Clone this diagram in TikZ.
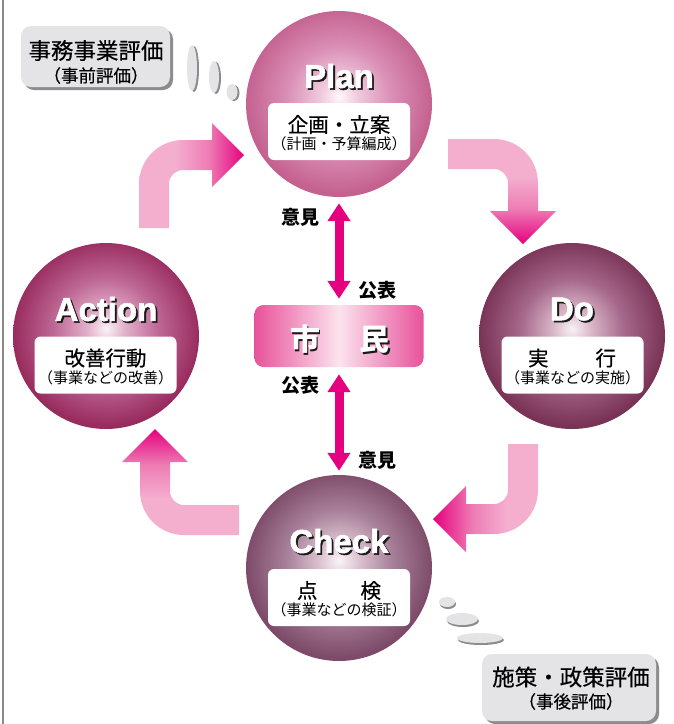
\documentclass[tikz,border=0pt]{standalone}
\usepackage{fontspec}
\setmainfont{Liberation Sans}
\newfontfamily\jp{Noto Sans CJK JP}
\newfontfamily\jpmed{Noto Sans CJK JP}[FakeBold=0.5]
\newfontfamily\heavy{Liberation Sans Bold}[FakeBold=1.5]
\usetikzlibrary{arrows.meta,shadows}
\definecolor{pkL}{HTML}{F4AFCF}
\definecolor{pkM}{HTML}{EE7DB4}
\definecolor{pkD}{HTML}{E5007F}
\definecolor{smE}{HTML}{E8529B}
\definecolor{smC}{HTML}{FBE3EE}
\definecolor{plan0}{HTML}{FEF8FB}\definecolor{plan1}{HTML}{F0CADD}\definecolor{plan2}{HTML}{DA8FB6}\definecolor{plan3}{HTML}{C4618F}
\definecolor{act0}{HTML}{FAF2F6}\definecolor{act1}{HTML}{E2B1CA}\definecolor{act2}{HTML}{BE6895}\definecolor{act3}{HTML}{992C5F}
\definecolor{do0}{HTML}{F8F2F5}\definecolor{do1}{HTML}{DAB8C9}\definecolor{do2}{HTML}{A5678A}\definecolor{do3}{HTML}{793355}
\definecolor{chk0}{HTML}{F9F4F7}\definecolor{chk1}{HTML}{DEC5D2}\definecolor{chk2}{HTML}{A8819A}\definecolor{chk3}{HTML}{7D4B69}
\definecolor{bubble}{HTML}{E4E4E6}
\definecolor{bubbleshade}{HTML}{8C8C8E}
\definecolor{frameline}{HTML}{8A8A8A}
\pgfdeclareradialshading{planball}{\pgfpoint{0bp}{2bp}}{color(0bp)=(plan0); color(5bp)=(plan1); color(14bp)=(plan2); color(25bp)=(plan3); color(50bp)=(plan3)}
\pgfdeclareradialshading{actball}{\pgfpoint{0bp}{2bp}}{color(0bp)=(act0); color(5bp)=(act1); color(14bp)=(act2); color(25bp)=(act3); color(50bp)=(act3)}
\pgfdeclareradialshading{doball}{\pgfpoint{0bp}{2bp}}{color(0bp)=(do0); color(5bp)=(do1); color(14bp)=(do2); color(25bp)=(do3); color(50bp)=(do3)}
\pgfdeclareradialshading{chkball}{\pgfpoint{0bp}{2bp}}{color(0bp)=(chk0); color(5bp)=(chk1); color(14bp)=(chk2); color(25bp)=(chk3); color(50bp)=(chk3)}
\pgfdeclarehorizontalshading{arrR}{100bp}{color(0bp)=(pkL); color(42bp)=(pkL); color(58bp)=(pkM); color(75bp)=(pkD); color(100bp)=(pkD)}
\pgfdeclarehorizontalshading{arrL}{100bp}{color(0bp)=(pkD); color(25bp)=(pkD); color(44bp)=(pkM); color(60bp)=(pkL); color(100bp)=(pkL)}
\pgfdeclareverticalshading{arrDown}{100bp}{color(0bp)=(pkD); color(25bp)=(pkD); color(42bp)=(pkM); color(57bp)=(pkL); color(100bp)=(pkL)}
\pgfdeclareverticalshading{arrUp}{100bp}{color(0bp)=(pkL); color(42bp)=(pkL); color(58bp)=(pkM); color(75bp)=(pkD); color(100bp)=(pkD)}
\pgfdeclarehorizontalshading{shiminH}{100bp}{color(0bp)=(smE); color(25bp)=(smE); color(50bp)=(smC); color(75bp)=(smE); color(100bp)=(smE)}
\newcommand\shadowtext[1]{\makebox[0pt][l]{\hspace{1.8pt}\raisebox{-1.8pt}{\color{black!90}#1}}#1}
\tikzset{
  ball/.style={circle, minimum size=186pt, inner sep=0pt, shade},
  title/.style={font=\heavy\fontsize{33}{33}\selectfont, text=white, inner sep=0pt},
  infobox/.style={rounded corners=6pt, fill=white, minimum width=142pt, minimum height=57pt, inner sep=0pt},
  lineone/.style={font=\jpmed\fontsize{20.5}{20.5}\selectfont, inner sep=0pt},
  linetwo/.style={font=\jp\fontsize{15}{15}\selectfont, inner sep=0pt},
  lbl/.style={font=\jp\bfseries\fontsize{19}{19}\selectfont, inner sep=0pt},
  vdouble/.style={draw=pkD, line width=9pt, {Triangle[width=22pt,length=18pt]}-{Triangle[width=22pt,length=18pt]}},
  graybox/.style={rounded corners=10pt, fill=bubble, inner sep=0pt,
    drop shadow={shadow xshift=3pt, shadow yshift=-3pt, fill=bubbleshade, opacity=1}},
  bigjp/.style={font=\jpmed\fontsize{22.5}{22.5}\selectfont, inner sep=0pt},
  smalljp/.style={font=\jpmed\fontsize{17.5}{17.5}\selectfont, inner sep=0pt},
  puff/.style={fill=bubble},
  puffshade/.style={fill=bubbleshade}
}
\begin{document}
\begin{tikzpicture}[x=1pt,y=-1pt]
\useasboundingbox (0,0) rectangle (674,724);
\fill[white] (0,0) rectangle (674,724);
\draw[frameline, line width=2pt] (3,0) -- (3,724);

% bent arrows
\shade[shading=arrR] (139,228) -- (139,184) arc[start angle=180,end angle=270,radius=44] -- (212,140) -- (212,123) -- (244,155) -- (212,187) -- (212,170) -- (183,170) arc[start angle=270,end angle=180,radius=14] -- (169,228) -- cycle;
\shade[shading=arrDown] (448,139) -- (494,139) arc[start angle=270,end angle=360,radius=44] -- (538,211) -- (556,211) -- (523,244) -- (490,211) -- (508,211) -- (508,183) arc[start angle=0,end angle=-90,radius=14] -- (448,169) -- cycle;
\shade[shading=arrL] (508,444) -- (538,444) -- (538,490) arc[start angle=0,end angle=90,radius=44] -- (466,534) -- (466,552) -- (433,519) -- (466,486) -- (466,504) -- (494,504) arc[start angle=90,end angle=0,radius=14] -- cycle;
\shade[shading=arrUp] (239,505) -- (184,505) arc[start angle=90,end angle=180,radius=14] -- (170,462) -- (188,462) -- (155,429) -- (122,462) -- (140,462) -- (140,491) arc[start angle=180,end angle=90,radius=44] -- (239,535) -- cycle;

% balls
\node[ball, shading=planball] (plan) at (339,104) {};
\node[ball, shading=actball] (action) at (106,336) {};
\node[ball, shading=doball] (do) at (572,336) {};
\node[ball, shading=chkball] (check) at (339,568) {};

% titles
\node[title] (plantitle) at (339,77) {\shadowtext{Plan}};
\node[title] (acttitle) at (106,310) {\shadowtext{Action}};
\node[title] (dotitle) at (572,310) {\shadowtext{Do}};
\node[title] (chktitle) at (339,542) {\shadowtext{Check}};

% info boxes
\node[infobox] (planbox) at (339,131.5) {};
\node[lineone] (planl1) at (339,124.5) {企画・立案};
\node[linetwo] (planl2) at (339,144) {（計画・予算編成）};
\node[infobox] (actbox) at (105.5,365) {};
\node[lineone] (actl1) at (105.5,358) {改善行動};
\node[linetwo] (actl2) at (105.5,377.5) {（事業などの改善）};
\node[infobox] (dobox) at (572.5,365) {};
\node[lineone] (dol1) at (572,358) {実\hspace{47pt}行};
\node[linetwo] (dol2) at (572.5,377.5) {（事業などの実施）};
\node[infobox] (chkbox) at (339,597.5) {};
\node[lineone] (chkl1) at (339,590.5) {点\hspace{43pt}検};
\node[linetwo] (chkl2) at (339,610) {（事業などの検証）};

% citizens
\node[shade, shading=shiminH, rounded corners=9pt, minimum width=169pt, minimum height=62pt, inner sep=0pt] (shimin) at (339,336) {};
\node[font=\jp\bfseries\fontsize{30}{30}\selectfont, text=white, inner sep=0pt] (shiminT) at (340,340) {\shadowtext{市\hspace{40pt}民}};

\draw[vdouble, shorten <=6pt, shorten >=6pt] (plan.south) -- (shimin.north);
\draw[vdouble, shorten <=7pt, shorten >=4pt] (shimin.south) -- (check.north);

\node[lbl] (iken1) at (300,217) {意見};
\node[lbl] (kohyo1) at (377,290) {公表};
\node[lbl] (kohyo2) at (300,385) {公表};
\node[lbl] (iken2) at (377,460) {意見};

% thought bubbles
\fill[puffshade] (194,69) ellipse[x radius=5, y radius=23];
\fill[puff] (192,68) ellipse[x radius=5, y radius=23];
\fill[puffshade] (216,78) ellipse[x radius=5, y radius=16];
\fill[puff] (214,77) ellipse[x radius=5, y radius=16];
\fill[puffshade] (234,93) ellipse[x radius=5.5, y radius=8];
\fill[puff] (232,92) ellipse[x radius=5.5, y radius=8];
\node[graybox, minimum width=149pt, minimum height=61pt] (pre) at (95.5,56.5) {};
\node[bigjp] (pre1) at (96,50.5) {事務事業評価};
\node[smalljp] (pre2) at (96,75.5) {（事前評価）};

\fill[puffshade] (448,604) ellipse[x radius=8, y radius=5];
\fill[puff] (447,602) ellipse[x radius=8, y radius=5];
\fill[puffshade] (463,621) ellipse[x radius=16, y radius=6];
\fill[puff] (462,619) ellipse[x radius=16, y radius=6];
\fill[puffshade] (481,640) ellipse[x radius=23, y radius=5];
\fill[puff] (480,638) ellipse[x radius=23, y radius=5];
\node[graybox, minimum width=174pt, minimum height=67pt] (post) at (569,687.5) {};
\node[bigjp] (post1) at (571,677) {施策・政策評価};
\node[smalljp] (post2) at (571,701.5) {（事後評価）};
\end{tikzpicture}
\end{document}
